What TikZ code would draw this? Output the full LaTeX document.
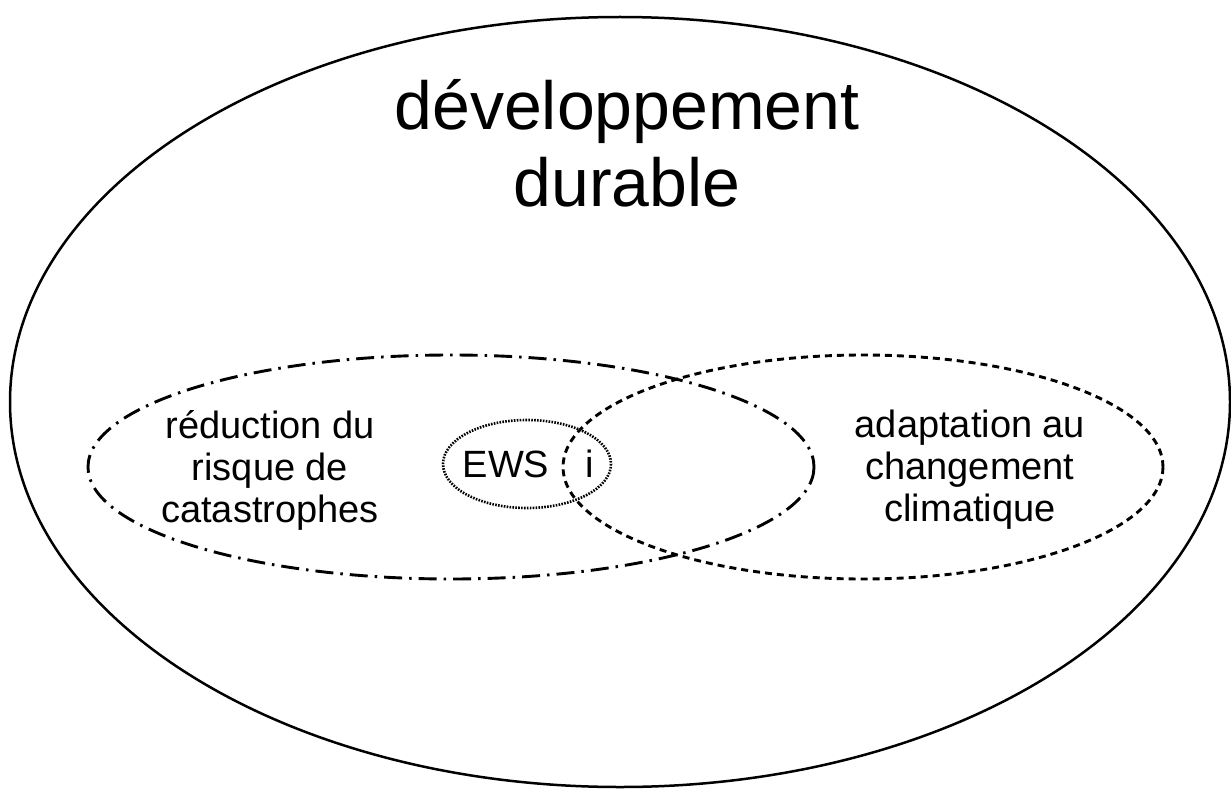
\documentclass[tikz,border=0pt]{standalone}
\usepackage{fontspec}
\setmainfont{Liberation Sans}
\begin{document}
\begin{tikzpicture}[x=1pt,y=-1pt,
  lbl/.style={align=center,inner sep=0pt,font=\fontsize{38}{42}\selectfont},
  big/.style={align=center,inner sep=0pt,font=\fontsize{68}{77}\selectfont}]
\useasboundingbox (0,0) rectangle (1231,789);
\fill[white] (0,0) rectangle (1231,789);
\draw[line width=2.5pt] (620,402) ellipse [x radius=610, y radius=385];
\draw[line width=2.9pt, dash pattern=on 18pt off 7pt on 2.5pt off 7pt] (451,467) ellipse [x radius=363, y radius=112];
\draw[line width=2.9pt, dash pattern=on 7pt off 5pt] (863,467) ellipse [x radius=300, y radius=112];
\draw[line width=2.6pt, dash pattern=on 1.6pt off 1.3pt] (527,464) ellipse [x radius=84, y radius=44];
\node[big] (dd) at (627,143) {développement\\durable};
\node[lbl] (drr) at (270,470) {réduction du\\risque de\\catastrophes};
\node[lbl] (acc) at (970,470) {adaptation au\\changement\\climatique};
\node[lbl] (ews) at (506,464) {EWS};
\node[lbl] (i) at (590,464) {i};
\end{tikzpicture}
\end{document}
